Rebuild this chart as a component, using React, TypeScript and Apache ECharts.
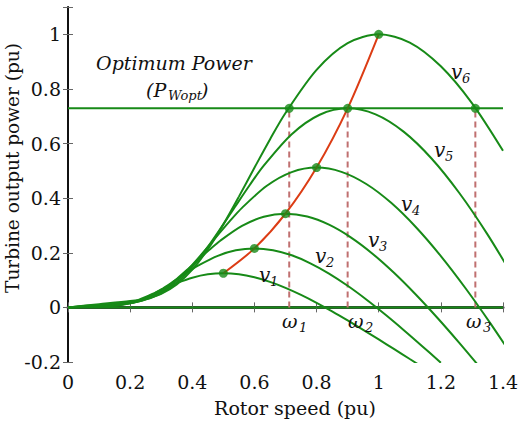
import React, { useEffect, useRef } from "react";
import * as echarts from "echarts";

// Turbine power curves for six wind speeds v1..v6: [rotor speed (pu), power (pu)]
const curveV1: [number, number][] = [
  [0, 0], [0.05, 0.0014], [0.1, 0.0029], [0.125, 0.004], [0.15, 0.0062], [0.175, 0.0105],
  [0.2, 0.0173], [0.225, 0.0266], [0.25, 0.038], [0.275, 0.0507], [0.3, 0.0639],
  [0.325, 0.0769], [0.35, 0.089], [0.4, 0.1087], [0.45, 0.121], [0.5, 0.125],
  [0.55, 0.1212], [0.6, 0.1103], [0.65, 0.0935], [0.7, 0.0717], [0.75, 0.0459],
  [0.8, 0.0169], [0.85, -0.0145], [0.9, -0.0477], [0.95, -0.0821], [1.0, -0.1174],
  [1.05, -0.1531], [1.1, -0.1891], [1.15, -0.225],
];
const curveV2: [number, number][] = [
  [0, 0], [0.06, 0.0025], [0.12, 0.005], [0.15, 0.0069], [0.18, 0.0108], [0.21, 0.0181],
  [0.24, 0.0298], [0.27, 0.0459], [0.3, 0.0657], [0.33, 0.0876], [0.36, 0.1104],
  [0.39, 0.1328], [0.42, 0.1537], [0.48, 0.1879], [0.54, 0.209], [0.6, 0.216],
  [0.66, 0.2094], [0.72, 0.1907], [0.78, 0.1615], [0.84, 0.1238], [0.9, 0.0792],
  [0.96, 0.0291], [1.02, -0.0251], [1.08, -0.0824], [1.14, -0.1419], [1.2, -0.2028],
];
const curveV3: [number, number][] = [
  [0, 0], [0.07, 0.0039], [0.14, 0.008], [0.175, 0.011], [0.21, 0.0171], [0.245, 0.0287],
  [0.28, 0.0473], [0.315, 0.073], [0.35, 0.1043], [0.385, 0.1391], [0.42, 0.1754],
  [0.455, 0.2109], [0.49, 0.2441], [0.56, 0.2984], [0.63, 0.3319], [0.7, 0.343],
  [0.77, 0.3326], [0.84, 0.3028], [0.91, 0.2565], [0.98, 0.1966], [1.05, 0.1258],
  [1.12, 0.0463], [1.19, -0.0398], [1.26, -0.1308], [1.33, -0.2253],
];
const curveV4: [number, number][] = [
  [0, 0], [0.08, 0.0059], [0.16, 0.0119], [0.2, 0.0164], [0.24, 0.0255], [0.28, 0.0428],
  [0.32, 0.0707], [0.36, 0.1089], [0.4, 0.1556], [0.44, 0.2077], [0.48, 0.2618],
  [0.52, 0.3149], [0.56, 0.3644], [0.64, 0.4454], [0.72, 0.4955], [0.8, 0.512],
  [0.88, 0.4964], [0.96, 0.4519], [1.04, 0.3829], [1.12, 0.2935], [1.2, 0.1878],
  [1.28, 0.0691], [1.36, -0.0594], [1.44, -0.1953],
];
const curveV5: [number, number][] = [
  [0, 0], [0.09, 0.0084], [0.18, 0.017], [0.225, 0.0234], [0.27, 0.0363], [0.315, 0.0609],
  [0.36, 0.1006], [0.405, 0.1551], [0.45, 0.2216], [0.495, 0.2957], [0.54, 0.3727],
  [0.585, 0.4483], [0.63, 0.5188], [0.72, 0.6342], [0.81, 0.7055], [0.9, 0.729],
  [0.99, 0.7068], [1.08, 0.6435], [1.17, 0.5452], [1.26, 0.4179], [1.35, 0.2674],
  [1.44, 0.0983],
];
const curveV6: [number, number][] = [
  [0, 0], [0.1, 0.0115], [0.2, 0.0233], [0.25, 0.0321], [0.3, 0.0498], [0.35, 0.0836],
  [0.4, 0.138], [0.45, 0.2127], [0.5, 0.304], [0.55, 0.4056], [0.6, 0.5113],
  [0.65, 0.615], [0.7, 0.7117], [0.8, 0.8699], [0.9, 0.9677], [1.0, 1.0],
  [1.1, 0.9696], [1.2, 0.8827], [1.3, 0.7479], [1.4, 0.5733],
];

// Optimum power locus through the peaks
const optimumLocus: [number, number][] = [
  [0.5, 0.125], [0.6, 0.216], [0.7, 0.343], [0.8, 0.512], [0.9, 0.729], [1.0, 1.0],
];

const powerLimit = 0.729;
const omegaSpeeds = [0.712, 0.9, 1.311];
const markerPoints: [number, number][] = [
  [0.5, 0.125], [0.6, 0.216], [0.7, 0.343], [0.8, 0.512], [0.9, 0.729], [1.0, 1.0],
  [0.712, 0.729], [1.311, 0.729],
];

const xMin = 0;
const xMax = 1.4;
const yMin = -0.2;
const yMax = 1.1;

const GREEN = "#178a17";
const RED = "#dc3c14";
const DASH = "#c07070";
const SERIF = "DejaVu Serif";

export default function App() {
  const ref = useRef<HTMLDivElement>(null);

  useEffect(() => {
    if (!ref.current) return;
    const chart = echarts.init(ref.current, undefined, { renderer: "svg" });

    const curves = [curveV1, curveV2, curveV3, curveV4, curveV5, curveV6];
    const curveSeries = curves.map((d, i) => ({
      type: "line",
      name: "v" + (i + 1),
      data: d,
      smooth: 0.3,
      symbol: "none",
      lineStyle: { color: GREEN, width: 2 },
      z: 3,
    }));

    const dashSeries = omegaSpeeds.map((w) => ({
      type: "line",
      data: [[w, 0], [w, powerLimit]],
      symbol: "none",
      lineStyle: { color: DASH, width: 2, type: [6, 4] },
      z: 2,
    }));

    const axisLabelStyle = {
      fontFamily: SERIF,
      fontSize: 19,
      color: "#111",
    };

    const italic = (
      text: string,
      x: number,
      y: number,
      size: number,
      align: string = "left"
    ) => ({
      type: "text",
      x,
      y,
      z: 100,
      style: {
        text,
        fontFamily: SERIF,
        fontSize: size,
        fontStyle: "italic",
        fill: "#111",
        textAlign: align,
        textVerticalAlign: "middle",
      },
    });

    const option = {
      animation: false,
      textStyle: { fontFamily: SERIF },
      grid: { left: 68, right: 21, top: 7, bottom: 66, containLabel: false },
      xAxis: [
        {
          type: "value",
          min: xMin,
          max: xMax,
          interval: 0.2,
          position: "bottom",
          axisLine: { show: true, lineStyle: { color: "#3a3a3a", width: 3 } },
          axisTick: { show: true, inside: true, length: 5, lineStyle: { color: "#666", width: 1 } },
          splitLine: { show: false },
          axisLabel: {
            ...axisLabelStyle,
            margin: 10,
            formatter: (v: number) => String(Math.round(v * 10) / 10),
          },
        },
        {
          type: "value",
          min: xMin,
          max: xMax,
          interval: 0.2,
          position: "top",
          axisLine: { show: true, lineStyle: { color: "#111", width: 1 } },
          axisTick: { show: true, inside: true, length: 5, lineStyle: { color: "#666", width: 1 } },
          splitLine: { show: false },
          axisLabel: { show: false },
        },
      ],
      yAxis: [
        {
          type: "value",
          min: yMin,
          max: yMax,
          interval: 0.2,
          position: "left",
          axisLine: { show: true, lineStyle: { color: "#111", width: 2 } },
          axisTick: { show: true, inside: true, length: 5, lineStyle: { color: "#666", width: 1 } },
          splitLine: { show: false },
          axisLabel: {
            ...axisLabelStyle,
            margin: 7,
            formatter: (v: number) => {
              const r = Math.round(v * 10) / 10;
              if (r > 1.05) return "";
              return String(r);
            },
          },
        },
        {
          type: "value",
          min: yMin,
          max: yMax,
          interval: 0.2,
          position: "right",
          axisLine: { show: true, lineStyle: { color: "#111", width: 1 } },
          axisTick: { show: true, inside: true, length: 5, lineStyle: { color: "#666", width: 1 } },
          splitLine: { show: false },
          axisLabel: { show: false },
        },
      ],
      series: [
        {
          type: "line",
          data: [[xMin, 0], [xMax, 0]],
          symbol: "none",
          lineStyle: { color: GREEN, width: 2 },
          z: 2,
        },
        {
          type: "line",
          data: [[xMin, powerLimit], [xMax, powerLimit]],
          symbol: "none",
          lineStyle: { color: GREEN, width: 2 },
          z: 2,
        },
        ...dashSeries,
        ...curveSeries,
        {
          type: "line",
          data: optimumLocus,
          smooth: 0.3,
          symbol: "none",
          lineStyle: { color: RED, width: 2 },
          z: 4,
        },
        {
          type: "scatter",
          data: markerPoints,
          symbol: "circle",
          symbolSize: 9,
          itemStyle: { color: GREEN },
          z: 5,
        },
      ],
      graphic: [
        {
          type: "text",
          x: 295,
          y: 408,
          style: {
            text: "Rotor speed (pu)",
            fontFamily: SERIF,
            fontSize: 19,
            fill: "#111",
            textAlign: "center",
            textVerticalAlign: "middle",
          },
        },
        {
          type: "text",
          x: 12,
          y: 168,
          rotation: Math.PI / 2,
          style: {
            text: "Turbine output power (pu)",
            fontFamily: SERIF,
            fontSize: 18.5,
            fill: "#111",
            textAlign: "center",
            textVerticalAlign: "middle",
          },
        },
        italic("Optimum Power", 174, 63, 19, "center"),
        italic("(P", 146, 90, 19),
        italic("Wopt", 168, 95, 13),
        italic(")", 201, 90, 19),
        italic("v", 451, 72, 20),
        italic("6", 462, 78, 13),
        italic("v", 434, 150, 20),
        italic("5", 445, 156, 13),
        italic("v", 401, 204, 20),
        italic("4", 412, 210, 13),
        italic("v", 368, 240, 20),
        italic("3", 379, 246, 13),
        italic("v", 315, 256, 20),
        italic("2", 326, 262, 13),
        italic("v", 259, 275, 20),
        italic("1", 270, 281, 13),
        italic("ω", 282, 321, 19),
        italic("1", 299, 327, 13),
        italic("ω", 348, 321, 19),
        italic("2", 365, 327, 13),
        italic("ω", 466, 321, 19),
        italic("3", 483, 327, 13),
      ],
    };

    chart.setOption(option as any);
    return () => chart.dispose();
  }, []);

  return (
    <div
      ref={ref}
      style={{ position: "absolute", left: 0, top: 0, width: 524, height: 428, background: "#fff" }}
    />
  );
}
